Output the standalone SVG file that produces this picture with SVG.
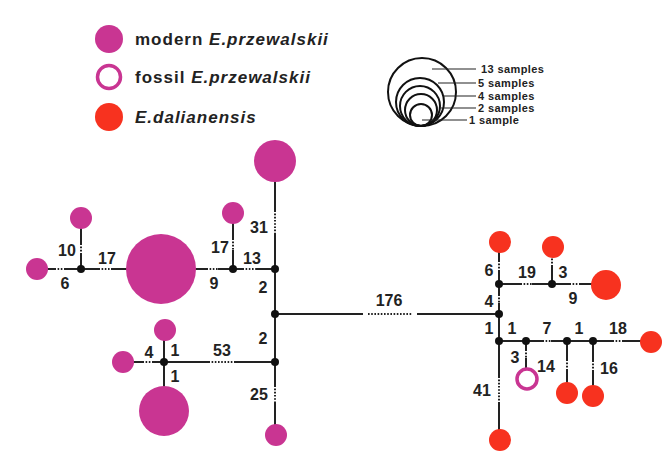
<svg xmlns="http://www.w3.org/2000/svg" width="664" height="465" viewBox="0 0 664 465">
<style>
.m{fill:#c93592}
.r{fill:#f7321f}
.f{fill:none;stroke:#c93592;stroke-width:3.5}
.ln{stroke:#222;stroke-width:2;fill:none}
.d{stroke:#fff;stroke-width:3.5;stroke-dasharray:1.6 1.6;fill:none}
.dot{fill:#111}
.n{font-family:"Liberation Sans",Arial,sans-serif;font-weight:bold;font-size:16px;fill:#222;text-anchor:middle}
.lg{font-family:"Liberation Sans",Arial,sans-serif;font-weight:bold;font-size:17px;letter-spacing:1px;fill:#222}
.sz{font-family:"Liberation Sans",Arial,sans-serif;font-weight:bold;font-size:11px;letter-spacing:0.4px;fill:#222}
.sc{fill:none;stroke:#111;stroke-width:2}
.sl{stroke:#222;stroke-width:1.2}
</style>
<rect width="664" height="465" fill="#fff"/>
<g id="legend">
<circle class="m" cx="109" cy="39" r="14"/>
<text class="lg" x="135" y="45">modern <tspan font-style="italic">E.przewalskii</tspan></text>
<circle class="f" cx="109" cy="77" r="11.5"/>
<text class="lg" x="135" y="83">fossil <tspan font-style="italic">E.przewalskii</tspan></text>
<circle class="r" cx="109" cy="117" r="14"/>
<text class="lg" x="135" y="123" font-style="italic">E.dalianensis</text>
</g>
<g id="size-legend">
<circle class="sc" cx="422" cy="92" r="34"/>
<circle class="sc" cx="420" cy="102" r="24"/>
<circle class="sc" cx="420" cy="106" r="20"/>
<circle class="sc" cx="421" cy="110" r="16"/>
<circle class="sc" cx="421" cy="115" r="11"/>
<line class="sl" x1="432" y1="69" x2="476" y2="69"/>
<line class="sl" x1="438" y1="83" x2="476" y2="83"/>
<line class="sl" x1="443" y1="96" x2="476" y2="96"/>
<line class="sl" x1="440" y1="108" x2="476" y2="108"/>
<line class="sl" x1="422" y1="120" x2="467" y2="120"/>
<text class="sz" x="481" y="73">13 samples</text>
<text class="sz" x="478" y="87">5 samples</text>
<text class="sz" x="478" y="100">4 samples</text>
<text class="sz" x="478" y="112">2 samples</text>
<text class="sz" x="469" y="124">1 sample</text>
</g>
<g id="connectors">
<path class="ln" d="M275 161V435M37 269H275M81 218V269M233 213V269M275 314H499M123 362H275M164 330V411M499 242V440M499 284H606M552 247V284M499 341H651M526 341V369M567 341V393M593 341V396"/>
<path class="d" d="M275 212V233M81 245V254M100 269H111M56 269H65M208 269H218M233 240V250M244 269H256M144 362H152M210 362H235M275 387V402M499 262V270M522 284H532M552 257V265M571 284H579M499 296V303M544 341H551M614 341H623M526 351V358M567 361V370M593 362V370M499 378V402"/>
<line x1="363" y1="314" x2="417" y2="314" stroke="#fff" stroke-width="4"/>
<line x1="368" y1="314" x2="412" y2="314" stroke="#222" stroke-width="2" stroke-dasharray="1.6 1.6"/>
</g>
<g id="labels">
<text class="n" x="259" y="233">31</text>
<text class="n" x="67" y="256">10</text>
<text class="n" x="107" y="264">17</text>
<text class="n" x="65" y="289">6</text>
<text class="n" x="214" y="289">9</text>
<text class="n" x="220" y="253">17</text>
<text class="n" x="252" y="264">13</text>
<text class="n" x="263" y="293">2</text>
<text class="n" x="263" y="344">2</text>
<text class="n" x="149" y="358">4</text>
<text class="n" x="175" y="356">1</text>
<text class="n" x="222" y="356">53</text>
<text class="n" x="175" y="382">1</text>
<text class="n" x="259" y="400">25</text>
<text class="n" x="389" y="306">176</text>
<text class="n" x="489" y="276">6</text>
<text class="n" x="527" y="278">19</text>
<text class="n" x="563" y="278">3</text>
<text class="n" x="573" y="304">9</text>
<text class="n" x="489" y="307">4</text>
<text class="n" x="489" y="334">1</text>
<text class="n" x="512" y="334">1</text>
<text class="n" x="547" y="334">7</text>
<text class="n" x="579" y="334">1</text>
<text class="n" x="618" y="334">18</text>
<text class="n" x="515" y="363">3</text>
<text class="n" x="546" y="372">14</text>
<text class="n" x="609" y="374">16</text>
<text class="n" x="482" y="396">41</text>
</g>
<g id="h-top"><circle class="m" cx="275" cy="161" r="21"/></g>
<g id="h-big"><circle class="m" cx="161" cy="269" r="35"/></g>
<g id="h-left"><circle class="m" cx="37" cy="269" r="11"/></g>
<g id="h-left-up"><circle class="m" cx="81" cy="218" r="11"/></g>
<g id="h-mid-up"><circle class="m" cx="233" cy="213" r="11"/></g>
<g id="h-low-up"><circle class="m" cx="165" cy="330" r="11"/></g>
<g id="h-low-left"><circle class="m" cx="123" cy="362" r="11"/></g>
<g id="h-low-big"><circle class="m" cx="164" cy="411" r="25"/></g>
<g id="h-bottom"><circle class="m" cx="276" cy="435" r="11"/></g>
<g id="d-top"><circle class="r" cx="500" cy="242" r="11"/></g>
<g id="d-up"><circle class="r" cx="553" cy="247" r="11"/></g>
<g id="d-big"><circle class="r" cx="606" cy="285" r="15"/></g>
<g id="d-right"><circle class="r" cx="651" cy="342" r="11"/></g>
<g id="d-14"><circle class="r" cx="567" cy="393" r="11"/></g>
<g id="d-16"><circle class="r" cx="593" cy="396" r="11"/></g>
<g id="d-bottom"><circle class="r" cx="500" cy="440" r="11"/></g>
<g id="fossil"><circle class="f" cx="527" cy="379" r="10"/></g>
<g id="nodes">
<circle class="dot" cx="81" cy="269" r="4"/>
<circle class="dot" cx="233" cy="269" r="4"/>
<circle class="dot" cx="275" cy="269" r="4"/>
<circle class="dot" cx="275" cy="314" r="4"/>
<circle class="dot" cx="275" cy="362" r="4"/>
<circle class="dot" cx="164" cy="362" r="4"/>
<circle class="dot" cx="499" cy="284" r="4"/>
<circle class="dot" cx="552" cy="284" r="4"/>
<circle class="dot" cx="499" cy="314" r="4"/>
<circle class="dot" cx="499" cy="341" r="4"/>
<circle class="dot" cx="526" cy="341" r="4"/>
<circle class="dot" cx="567" cy="341" r="4"/>
<circle class="dot" cx="593" cy="341" r="4"/>
</g>
</svg>
